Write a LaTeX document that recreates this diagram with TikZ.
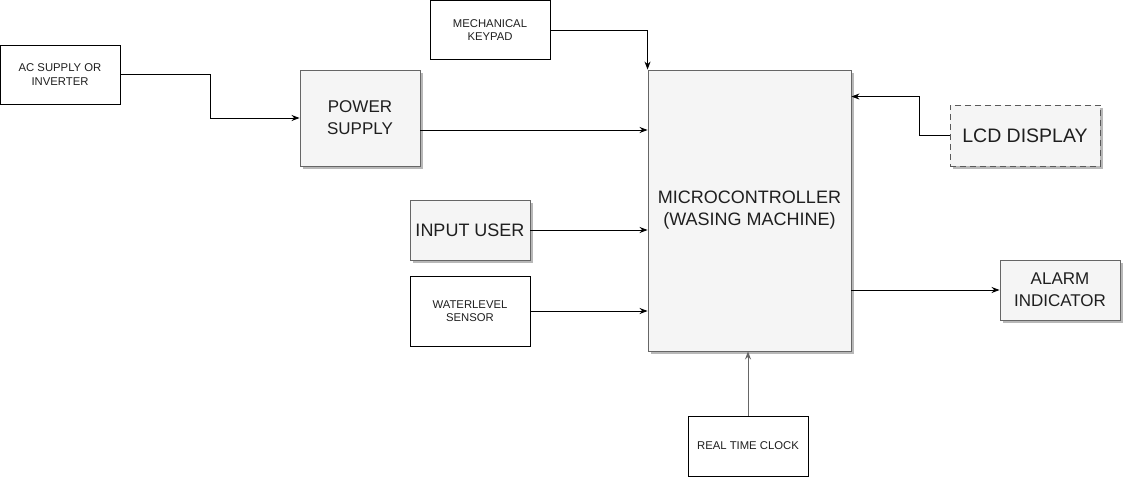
\documentclass[tikz,border=0pt]{standalone}
\usepackage{fontspec}
\setmainfont{Liberation Sans}
\usetikzlibrary{shadows,arrows.meta,calc}
\definecolor{boxfill}{HTML}{F5F5F5}
\definecolor{boxline}{HTML}{666666}
\tikzset{
  plain/.style={draw=black, fill=white, line width=0.9pt, inner sep=0pt, align=center, text=black!88},
  shaded/.style={draw=boxline, fill=boxfill, line width=0.9pt, inner sep=0pt, align=center, text=black!88,
    drop shadow={shadow xshift=3pt, shadow yshift=-3pt, fill=black!28, opacity=1}},
  small/.style={font=\fontsize{11.3}{13.5}\selectfont},
  mid/.style={font=\fontsize{17}{22}\selectfont},
  arr/.style={draw=black, line width=0.9pt, -{Stealth[length=8pt,width=6pt]}},
}
\begin{document}
\begin{tikzpicture}[x=1pt,y=-1pt]
\useasboundingbox (0,0) rectangle (1125,478);
\node[plain, small, minimum width=120, minimum height=59] (ac) at (60,74.5) {AC SUPPLY OR\\INVERTER};
\node[shaded, mid, minimum width=120, minimum height=96] (ps) at (360,118) {POWER\\SUPPLY};
\node[plain, small, minimum width=120, minimum height=59] (kp) at (490,30) {MECHANICAL\\KEYPAD};
\node[shaded, font=\fontsize{18}{22}\selectfont, minimum width=203, minimum height=281] (mc) at (749.5,210.5) {MICROCONTROLLER\\(WASING MACHINE)};
\node[shaded, dashed, draw=black!65, dash pattern=on 6pt off 4pt, font=\fontsize{19.5}{23}\selectfont, minimum width=150, minimum height=61] (lcd) at (1025,135.5) {LCD DISPLAY};
\node[shaded, font=\fontsize{18}{22}\selectfont, minimum width=120, minimum height=60] (iu) at (470,230) {INPUT USER};
\node[plain, small, minimum width=120, minimum height=70] (wl) at (470,311) {WATERLEVEL\\SENSOR};
\node[shaded, mid, minimum width=120, minimum height=60] (al) at (1060,290) {ALARM\\INDICATOR};
\node[plain, small, minimum width=120, minimum height=60] (rtc) at (748,446) {REAL TIME CLOCK};

\draw[arr] (ac.east) -- ++(90,0) |- (ps.west);
\draw[arr] ([yshift=-12pt]ps.east) -- ([yshift=-12pt]ps.east -| mc.west);
\draw[arr] (kp.east) -| (mc.north west);
\draw[arr] (lcd.west) -- ++(-30,0) |- ([yshift=-27pt]mc.north east);
\draw[arr] (iu.east) -- (iu.east -| mc.west);
\draw[arr] (wl.east) -- (wl.east -| mc.west);
\draw[arr] (al.west -| mc.east) -- (al.west);
\draw[arr, draw=boxline] (rtc.north) -- (rtc.north |- mc.south);
\end{tikzpicture}
\end{document}
